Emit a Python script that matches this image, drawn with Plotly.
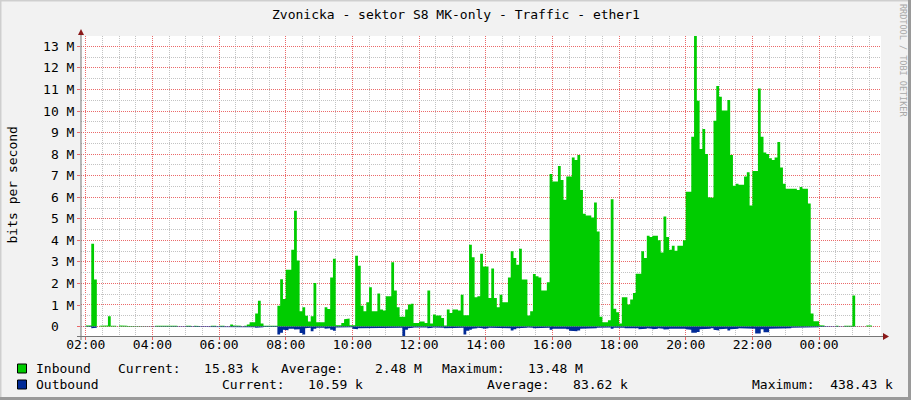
import math
import plotly.graph_objects as go
from datetime import datetime, timedelta

# ---------------- data (Mbit/s, one value per 5-minute step from 01:50) ----------------
START = datetime(2024, 1, 1, 1, 50)
STEP_MIN = 5

inbound = [
    None, None, 0.05, 0.05, 3.84, 2.18, None, 0.04, 0.04, 0.05,
    0.48, 0.04, 0.04, None, 0.05, 0.06, 0.04, 0.02, None, None,
    None, None, None, None, None, 0.03, None, 0.04, 0.04, 0.04,
    0.04, 0.04, 0.04, 0.04, 0.04, None, None, None, 0.04, 0.04,
    None, 0.04, 0.02, None, None, None, None, 0.04, 0.04, None,
    0.04, 0.04, None, None, 0.09, 0.05, 0.05, 0.04, None, 0.04,
    0.1, 0.2, 0.2, 0.6, 1.2, 0.14, 0.04, 0.04, 0.04, 0.04,
    0.04, 0.97,
    2.2, 1.28, 2.64, 2.64, 3.56, 5.37, 3.06, 0.71, 0.9, 0.5,
    0.23, 0.48, 2.02, 0.2, 0.2, 0.2, 0.9, 0.82, 2.27, 3.15,
    0.06, 0.06, 0.17, 0.34, 0.37, 0.06, 0.06, 3.29, 2.82, 0.97,
    0.71, 1.13, 1.82, 0.71, 0.71, 1.53, 0.79, 0.74, 1.4, 1.4,
    2.98, 1.67, 0.9, 0.45, 0.45, 0.79, 1.02, 1.06, 0.17, 0.17,
    0.23, 0.23, 0.17, 1.67, 0.14, 0.56, 0.51, 0.51, 0.4, 0.05,
    0.79, 0.63, 0.79, 0.79, 0.74, 1.48, 0.52, 0.52, 3.8, 3.21,
    1.36, 1.4,
    3.38, 2.79, 2.79, 1.33, 2.69, 1.33, 0.9, 1.48, 1.13, 1.13,
    2.28, 3.49, 3.18, 2.87, 3.61, 2.18, 2.18, 0.51, 0.71, 2.44,
    2.33, 2.28, 1.67, 1.67, 2.05, 7.08, 6.73, 6.73, 7.45, 6.8,
    5.88, 6.96, 6.96, 7.84, 7.73, 7.96, 6.34, 5.23, 5.15, 5.15,
    5.06, 5.76, 4.41, 0.45, 0.2, 0.2, 0.29, 5.91, 0.83, 0.66,
    0.14, 1.36, 1.36, 1.02, 1.25, 1.56, 2.45, 2.45, 3.49, 3.18,
    4.21, 4.15, 4.21, 4.21, 4.0, 3.44, 5.11, 4.15, 3.56, 3.75,
    3.52, 3.75,
    3.75, 4.0, 6.25, 6.25, 8.81, 13.48, 10.48, 8.24, 9.17, 8.01,
    6.0, 5.97, 9.55, 11.16, 10.66, 10.02, 10.02, 10.51, 7.96, 6.53,
    6.62, 6.58, 6.58, 6.96, 7.16, 5.62, 7.22, 7.22, 11.05, 8.81,
    8.07, 8.01, 7.81, 7.73, 7.84, 8.56, 7.38, 6.62, 6.39, 6.39,
    6.39, 6.39, 6.34, 6.47, 6.39, 6.39, 5.71, 0.6, 0.25, 0.25,
    0.06, 0.05, None, None, None, None, 0.04, None, None, 0.04,
    0.04, 0.04, 1.44, None, None, None, None, 0.05, 0.05, None,
    None, None,
]

outbound = [
    None, None, 0.02, 0.02, 0.08, 0.06, None, 0.02, 0.02, 0.02,
    0.02, 0.02, 0.02, None, 0.03, 0.03, 0.03, 0.03, None, None,
    None, None, None, None, None, 0.02, None, 0.01, 0.01, 0.01,
    0.01, 0.01, 0.01, 0.01, 0.01, None, None, None, 0.01, 0.01,
    None, 0.03, 0.03, None, None, None, None, 0.01, 0.01, None,
    0.01, 0.01, None, None, 0.02, 0.02, 0.02, 0.02, None, 0.02,
    0.03, 0.03, 0.03, 0.06, 0.05, 0.03, 0.02, 0.02, 0.02, 0.02,
    0.02, 0.37,
    0.29, 0.15, 0.17, 0.1, 0.1, 0.14, 0.12, 0.3, 0.37, 0.08,
    0.06, 0.22, 0.1, 0.06, 0.05, 0.06, 0.1, 0.08, 0.15, 0.2,
    0.04, 0.03, 0.03, 0.05, 0.04, 0.03, 0.1, 0.12, 0.08, 0.06,
    0.06, 0.08, 0.06, 0.05, 0.06, 0.08, 0.06, 0.05, 0.08, 0.06,
    0.05, 0.05, 0.08, 0.06, 0.438, 0.15, 0.08, 0.06, 0.04, 0.06,
    0.04, 0.05, 0.04, 0.08, 0.06, 0.04, 0.05, 0.03, 0.06, 0.08,
    0.05, 0.05, 0.06, 0.06, 0.05, 0.05, 0.37, 0.2, 0.15, 0.1,
    0.08, 0.06,
    0.08, 0.1, 0.08, 0.06, 0.06, 0.08, 0.06, 0.05, 0.06, 0.06,
    0.08, 0.18, 0.12, 0.08, 0.06, 0.08, 0.06, 0.04, 0.05, 0.08,
    0.06, 0.06, 0.05, 0.06, 0.06, 0.15, 0.1, 0.1, 0.08, 0.1,
    0.1, 0.12, 0.2, 0.22, 0.22, 0.18, 0.1, 0.08, 0.08, 0.1,
    0.08, 0.08, 0.06, 0.04, 0.03, 0.03, 0.04, 0.1, 0.06, 0.05,
    0.03, 0.06, 0.08, 0.06, 0.06, 0.08, 0.08, 0.12, 0.1, 0.1,
    0.08, 0.1, 0.12, 0.1, 0.08, 0.1, 0.14, 0.12, 0.1, 0.1,
    0.08, 0.1,
    0.1, 0.1, 0.12, 0.15, 0.29, 0.29, 0.25, 0.12, 0.1, 0.1,
    0.1, 0.08, 0.15, 0.18, 0.12, 0.1, 0.1, 0.18, 0.12, 0.1,
    0.1, 0.08, 0.08, 0.1, 0.1, 0.08, 0.1, 0.32, 0.32, 0.12,
    0.26, 0.26, 0.1, 0.08, 0.08, 0.08, 0.1, 0.08, 0.08, 0.08,
    0.06, 0.06, 0.06, 0.06, 0.06, 0.06, 0.06, 0.04, 0.03, 0.03,
    0.02, 0.02, None, None, None, None, 0.01, None, None, 0.01,
    0.01, 0.01, 0.03, None, None, None, None, 0.01, 0.01, None,
    None, None,
]

y_tick_values = list(range(14))
y_tick_labels = ["0\u00a0\u00a0"] + [f"{v} M" for v in range(1, 14)]

title_text = "Zvonicka - sektor S8 MK-only - Traffic - ether1"
y_title = "bits per second"
watermark = "RRDTOOL / TOBI OETIKER"

series_names = ["Inbound", "Outbound"]
series_colors = ["#00CC00", "#002A97"]
inbound_stats = ["Current:   15.83 k", "Average:    2.48 M", "Maximum:   13.48 M"]
outbound_stats = ["Current:   10.59 k", "Average:   83.62 k", "Maximum:  438.43 k"]

# ---------------- geometry ----------------
W, H = 911, 400
L, R, T, B = 81, 30, 36, 64
PW, PH = W - L - R, H - T - B
FONT = "DejaVu Sans Mono"
Y_MIN, Y_MAX = -0.43843, 13.48


def px(x):
    return (x - L) / PW


def py(y):
    return (H - B - y) / PH


def step_series(vals, sign):
    """Turn per-step averages into a stepped outline; unknown steps sit at zero."""
    xs, ys = [], []
    step = timedelta(minutes=STEP_MIN)
    for i, v in enumerate(vals):
        s = START + i * step
        val = 0.0 if v is None else sign * v
        xs += [s, s + step]
        ys += [val, val]
    return xs, ys


fig = go.Figure()
for vals, sign, name, col in [(inbound, 1, series_names[0], series_colors[0]),
                              (outbound, -1, series_names[1], series_colors[1])]:
    xs, ys = step_series(vals, sign)
    fig.add_trace(go.Scatter(x=xs, y=ys, mode="lines", name=name, fill="tozeroy",
                             fillcolor=col, line=dict(width=0, color=col),
                             hoverinfo="skip", showlegend=False))

x_start = datetime(2024, 1, 1, 1, 51, 30)
x_end = x_start + timedelta(hours=24)

# grid positions: majors every 2 h / 1 M, minors every 30 min / 0.5 M (not on majors)
x_major = [datetime(2024, 1, 1, 2, 0) + timedelta(hours=2 * k) for k in range(12)]
x_minor = [datetime(2024, 1, 1, 1, 30) + timedelta(minutes=30 * k) for k in range(50)]
x_minor = [t for t in x_minor if t not in x_major and x_start <= t <= x_end]
y_minor = [v + 0.5 for v in range(-1, 14) if Y_MIN <= v + 0.5 <= Y_MAX]

major_grid = "rgb(235,105,105)"
minor_grid = "rgb(195,195,195)"
DASH = "1px,1px"

fig.update_layout(
    width=W, height=H,
    margin=dict(l=L, r=R, t=T, b=B, pad=0, autoexpand=False),
    paper_bgcolor="#F2F2F2", plot_bgcolor="#FFFFFF",
    font=dict(family=FONT, size=13, color="#000000"),
    xaxis=dict(
        type="date", range=[x_start, x_end], tickformat="%H:%M",
        tickmode="array", tickvals=x_major, showgrid=False,
        ticks="outside", ticklen=3, tickcolor=major_grid,
        ticklabelstandoff=-7,
        showline=False, zeroline=False, fixedrange=True, automargin=False,
        tickfont=dict(family=FONT, size=13, color="#000000"),
    ),
    yaxis=dict(
        range=[Y_MIN, Y_MAX], tickmode="array",
        tickvals=y_tick_values, ticktext=y_tick_labels, showgrid=False,
        ticks="outside", ticklen=3, tickcolor=major_grid,
        showline=False, zeroline=False, fixedrange=True, automargin=False,
        tickfont=dict(family=FONT, size=13, color="#000000"),
    ),
)


# pixel-snapped dotted grid (like rrdtool), placed from the axis scales
def x_to_pix(t):
    return L + (t - x_start).total_seconds() / (x_end - x_start).total_seconds() * PW


def y_to_pix(v):
    return T + (Y_MAX - v) / (Y_MAX - Y_MIN) * PH


def snap(p):
    return math.floor(p) + 0.5


shapes = []
for vals, col in [(x_minor, minor_grid), (x_major, major_grid)]:
    for t in vals:
        xp = snap(x_to_pix(t))
        shapes.append(dict(type="line", xref="paper", yref="paper", layer="below",
                           x0=px(xp), x1=px(xp), y0=py(T), y1=py(T + PH),
                           line=dict(color=col, width=1, dash=DASH)))
for vals, col in [(y_minor, minor_grid), (y_tick_values, major_grid)]:
    for v in vals:
        yp = snap(y_to_pix(v))
        shapes.append(dict(type="line", xref="paper", yref="paper", layer="below",
                           x0=px(L), x1=px(L + PW), y0=py(yp), y1=py(yp),
                           line=dict(color=col, width=1, dash=DASH)))

# axes
shapes.append(dict(type="line", xref="paper", yref="paper", x0=px(81), x1=px(81), y0=py(340), y1=py(32),
                   line=dict(color="#777777", width=1)))
shapes.append(dict(type="line", xref="paper", yref="paper", x0=px(77), x1=px(884), y0=py(336.5), y1=py(336.5),
                   line=dict(color="#777777", width=1)))
# arrows
shapes.append(dict(type="path", xref="paper", yref="paper",
                   path=f"M {px(78)} {py(35)} L {px(84)} {py(35)} L {px(81)} {py(29)} Z",
                   fillcolor="#8B1A1A", line=dict(width=0)))
shapes.append(dict(type="path", xref="paper", yref="paper",
                   path=f"M {px(883)} {py(333)} L {px(883)} {py(340)} L {px(889)} {py(336.5)} Z",
                   fillcolor="#8B1A1A", line=dict(width=0)))
# frame
shapes.append(dict(type="line", xref="paper", yref="paper", x0=px(0), x1=px(911), y0=py(0.5), y1=py(0.5),
                   line=dict(color="#CFCFCF", width=2)))
shapes.append(dict(type="line", xref="paper", yref="paper", x0=px(0.5), x1=px(0.5), y0=py(0), y1=py(400),
                   line=dict(color="#CFCFCF", width=2)))
shapes.append(dict(type="line", xref="paper", yref="paper", x0=px(909.5), x1=px(909.5), y0=py(0), y1=py(400),
                   line=dict(color="#9A9A9A", width=3)))
shapes.append(dict(type="line", xref="paper", yref="paper", x0=px(0), x1=px(911), y0=py(398.5), y1=py(398.5),
                   line=dict(color="#9A9A9A", width=3)))
# legend boxes
for i, col in enumerate(series_colors):
    yc = 368.5 + 16 * i
    shapes.append(dict(type="rect", xref="paper", yref="paper",
                       x0=px(17.5), x1=px(26.5), y0=py(yc - 4.5), y1=py(yc + 4.5),
                       fillcolor=col, line=dict(color="#000000", width=1)))
fig.update_layout(shapes=shapes)

ann = []


def nb(s):
    return s.replace(" ", "\u00a0")


def text(x, y, s, size=13, anchor="left", color="#000000", angle=0):
    ann.append(dict(xref="paper", yref="paper", x=px(x), y=py(y), text=nb(s), showarrow=False,
                    xanchor=anchor, yanchor="middle", textangle=angle,
                    font=dict(family=FONT, size=size, color=color)))


text(455.5, 15, title_text, anchor="center")
ann.append(dict(xref="paper", yref="paper", x=px(12), y=py(185.5), text=nb(y_title), showarrow=False,
                xanchor="center", yanchor="middle", textangle=-90,
                font=dict(family=FONT, size=13, color="#000000")))
ann.append(dict(xref="paper", yref="paper", x=px(903), y=py(60), text=nb(watermark), showarrow=False,
                xanchor="center", yanchor="middle", textangle=90,
                font=dict(family=FONT, size=8.5, color="#A8A8A8")))

row1_x = [116, 279, 440]
row2_x = [220, 485, 750]
text(34, 368.5, series_names[0])
for x, s in zip(row1_x, inbound_stats):
    text(x, 368.5, s)
text(34, 384.5, series_names[1])
for x, s in zip(row2_x, outbound_stats):
    text(x, 384.5, s)

fig.update_layout(annotations=ann)

post = "document.body.style.margin='0';document.body.style.overflow='hidden';"
fig.write_html("out.html", config={"displayModeBar": False}, post_script=post)
